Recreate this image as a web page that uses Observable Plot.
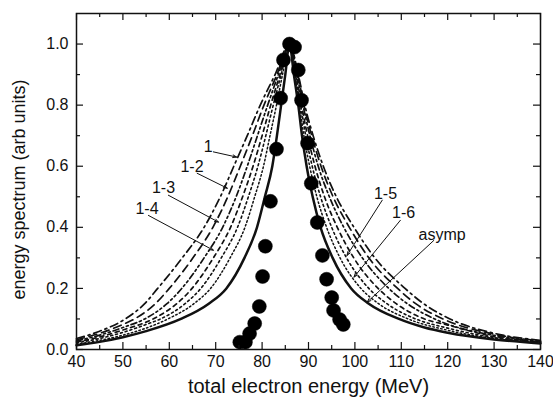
<!DOCTYPE html>
<html><head><meta charset="utf-8">
<script src="https://cdn.jsdelivr.net/npm/d3@7"></script>
<script src="https://cdn.jsdelivr.net/npm/@observablehq/plot@0.6"></script>
<style>body{margin:0;background:#fff} #chart{position:absolute;left:0;top:0}</style>
</head><body><div id="chart"></div>
<script>
// ---- data ----
const seriesNames = ["1", "1-2", "1-3", "1-4", "1-5", "1-6", "asymp"];
const curve1 = [[40,0.036],[45,0.06],[50.5,0.1],[54.7,0.15],[57.5,0.2],[62.8,0.3],[67.5,0.4],[71.0,0.5],[73.9,0.6],[76.8,0.7],[79.6,0.8],[82.8,0.9],[85.9,1.0],[87.8,0.9],[89.2,0.8],[91.0,0.7],[93.2,0.6],[96.0,0.5],[99.8,0.4],[104.3,0.3],[110.8,0.2],[114.8,0.15],[120.5,0.1],[130,0.053],[140,0.03]];
const curve12 = [[40,0.032],[45,0.053],[50,0.082],[52.5,0.1],[57.0,0.15],[60.0,0.2],[65.1,0.3],[69.4,0.4],[72.6,0.5],[75.3,0.6],[77.9,0.7],[80.4,0.8],[83.2,0.9],[85.9,1.0],[87.7,0.9],[89.0,0.8],[90.7,0.7],[92.7,0.6],[95.3,0.5],[98.8,0.4],[103.0,0.3],[109.2,0.2],[113.1,0.15],[119.0,0.1],[130,0.05],[140,0.028]];
const curve13 = [[40,0.028],[45,0.047],[50,0.072],[54.7,0.1],[59.5,0.15],[62.7,0.2],[67.5,0.3],[71.5,0.4],[74.4,0.5],[76.8,0.6],[79.0,0.7],[81.2,0.8],[83.5,0.9],[85.9,1.0],[87.5,0.9],[88.8,0.8],[90.3,0.7],[92.1,0.6],[94.5,0.5],[97.6,0.4],[101.6,0.3],[107.3,0.2],[111.3,0.15],[117.2,0.1],[130,0.046],[140,0.026]];
const curve14 = [[40,0.025],[45,0.041],[50,0.064],[56.5,0.1],[61.6,0.15],[64.9,0.2],[69.5,0.3],[73.2,0.4],[75.8,0.5],[78.05,0.6],[80.0,0.7],[81.85,0.8],[83.85,0.9],[85.9,1.0],[87.35,0.9],[88.5,0.8],[89.8,0.7],[91.4,0.6],[93.45,0.5],[96.2,0.4],[99.75,0.3],[105.0,0.2],[108.9,0.15],[115.0,0.1],[120,0.08],[130,0.042],[140,0.025]];
const curve15 = [[40,0.022],[45,0.036],[50,0.056],[55,0.082],[58.1,0.1],[63.4,0.15],[66.8,0.2],[71.2,0.3],[74.7,0.4],[77.05,0.5],[79.1,0.6],[80.8,0.7],[82.4,0.8],[84.1,0.9],[85.9,1.0],[87.2,0.9],[88.3,0.8],[89.4,0.7],[90.8,0.6],[92.6,0.5],[95.0,0.4],[98.2,0.3],[103.0,0.2],[106.9,0.15],[113.1,0.1],[120,0.07],[130,0.039],[140,0.023]];
const curve16 = [[40,0.018],[45,0.03],[50,0.047],[55,0.07],[59.7,0.1],[65.3,0.15],[68.9,0.2],[73.1,0.3],[76.3,0.4],[78.4,0.5],[80.3,0.6],[81.7,0.7],[83.1,0.8],[84.4,0.9],[85.9,1.0],[87.05,0.9],[88.05,0.8],[89.0,0.7],[90.25,0.6],[91.8,0.5],[93.9,0.4],[96.8,0.3],[101.3,0.2],[105.1,0.15],[111.5,0.1],[120,0.063],[130,0.036],[140,0.022]];
const curveAsymp = [[40,0.014],[45,0.025],[50,0.04],[55,0.06],[62.5,0.1],[68.5,0.15],[72.3,0.2],[76.2,0.3],[78.9,0.4],[80.6,0.5],[82.2,0.6],[83.2,0.7],[84.1,0.8],[85.0,0.9],[85.9,1.0],[86.85,0.9],[87.8,0.8],[88.6,0.7],[89.6,0.6],[90.9,0.5],[92.6,0.4],[95.2,0.3],[99.2,0.2],[103.0,0.15],[109.5,0.1],[115,0.072],[120,0.055],[130,0.033],[140,0.02]];

const dotX = [75.2,76.4,77.3,78.4,79.4,80.1,80.7,81.8,83.1,84.0,84.6,85.9,87.0,87.8,88.5,89.8,90.6,91.9,93.0,93.9,95.0,95.4,96.7,97.5];
const dotY = [0.024,0.024,0.052,0.085,0.141,0.239,0.338,0.485,0.656,0.823,0.948,1.0,0.99,0.915,0.816,0.675,0.544,0.416,0.308,0.23,0.17,0.128,0.098,0.082];

const xMajor = [40,50,60,70,80,90,100,110,120,130,140];
const xMinor = [45,55,65,75,85,95,105,115,125,135];
const yMajor = [0,0.2,0.4,0.6,0.8,1.0];
const yMinor = [0.1,0.3,0.5,0.7,0.9];

const annotText = ["1","1-2","1-3","1-4","1-5","1-6","asymp"];
const annotX = [68.4,64.9,58.75,55.2,106.6,110.5,118.8];
const annotY = [0.662,0.597,0.528,0.459,0.51,0.446,0.374];
const arrowX1 = [69.5,66.0,59.8,55.5,105.9,109.8,117.0];
const arrowY1 = [0.647,0.577,0.505,0.439,0.489,0.423,0.357];
const arrowX2 = [74.5,72.5,70.6,69.5,98.3,99.8,102.65];
const arrowY2 = [0.63,0.528,0.417,0.325,0.308,0.237,0.155];

const xLabel = "total electron energy (MeV)";
const yLabel = "energy spectrum (arb units)";

// ---- build ----
const curves = [curve1, curve12, curve13, curve14, curve15, curve16, curveAsymp];
const dashes = ["8,4,2,4", "8,5", "6,3,2,3,2,3", "4,4", "2,3", "1.5,2.5", null];
const widths = [1.7,1.7,1.7,1.7,1.6,1.5,2.5];

const W = 553, H = 408, mL = 76, mR = 13, mT = 13, mB = 59;
const iw = W - mL - mR, ih = H - mT - mB;

const lineMarks = curves.map((c, i) => Plot.line(c.map(([x, y]) => ({x, y, s: seriesNames[i]})), {
  x: "x", y: "y", curve: "monotone-x", stroke: "#111",
  strokeWidth: widths[i], strokeDasharray: dashes[i] || undefined
}));

const dots = dotX.map((x, i) => ({x, y: dotY[i]}));
const annots = annotText.map((t, i) => ({t, x: annotX[i], y: annotY[i], x1: arrowX1[i], y1: arrowY1[i], x2: arrowX2[i], y2: arrowY2[i]}));

const chart = Plot.plot({
  width: W, height: H,
  marginLeft: mL, marginRight: mR, marginTop: mT, marginBottom: mB,
  style: {fontFamily: "'Liberation Sans', Arial, sans-serif", fontSize: "16px", color: "#111", background: "#fff"},
  x: {domain: [40, 140]},
  y: {domain: [0, 1.1]},
  marks: [
    ...lineMarks,
    Plot.dot(dots, {x: "x", y: "y", r: 7, fill: "#000", stroke: "#000", strokeWidth: 0.5}),
    Plot.arrow(annots, {x1: "x1", y1: "y1", x2: "x2", y2: "y2", stroke: "#111", strokeWidth: 1, headLength: 6, headAngle: 40}),
    Plot.text(annots, {x: "x", y: "y", text: "t", fontSize: 16, fill: "#111"}),
    // ticks (inward) on all four sides
    Plot.tickX(xMajor, {x: d => d, insetTop: ih - 7, stroke: "#111", strokeWidth: 1.2}),
    Plot.tickX(xMinor, {x: d => d, insetTop: ih - 4, stroke: "#111", strokeWidth: 1.2}),
    Plot.tickX(xMajor, {x: d => d, insetBottom: ih - 7, stroke: "#111", strokeWidth: 1.2}),
    Plot.tickX(xMinor, {x: d => d, insetBottom: ih - 4, stroke: "#111", strokeWidth: 1.2}),
    Plot.tickY(yMajor, {y: d => d, insetRight: iw - 7, stroke: "#111", strokeWidth: 1.2}),
    Plot.tickY(yMinor, {y: d => d, insetRight: iw - 4, stroke: "#111", strokeWidth: 1.2}),
    Plot.tickY(yMajor, {y: d => d, insetLeft: iw - 7, stroke: "#111", strokeWidth: 1.2}),
    Plot.tickY(yMinor, {y: d => d, insetLeft: iw - 4, stroke: "#111", strokeWidth: 1.2}),
    Plot.axisX({ticks: xMajor, tickSize: 0, tickPadding: 6, label: null, fontSize: 16}),
    Plot.axisY({ticks: yMajor, tickSize: 0, tickPadding: 8, label: null, tickFormat: d => d.toFixed(1), fontSize: 16}),
    Plot.frame({stroke: "#111", strokeWidth: 1.5}),
    Plot.text([xLabel], {frameAnchor: "bottom", textAnchor: "middle", dy: 43, fontSize: 20, fill: "#111"}),
    Plot.text([yLabel], {frameAnchor: "left", textAnchor: "middle", dx: -57, dy: 8, rotate: -90, fontSize: 18, fill: "#111"})
  ]
});
document.getElementById("chart").appendChild(chart);
</script>
</body></html>
